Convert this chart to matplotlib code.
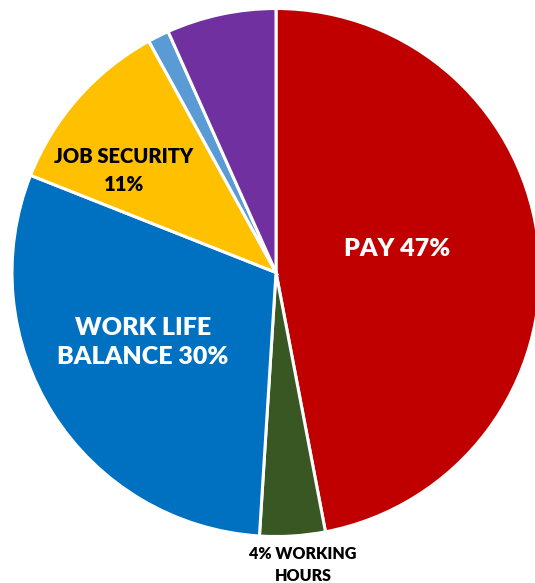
import matplotlib
matplotlib.use("Agg")
import matplotlib.pyplot as plt

# Survey: what matters most to employees
categories = ["PAY", "WORKING HOURS", "WORK LIFE BALANCE", "JOB SECURITY", "OTHER", "CAREER GROWTH"]
shares = [47, 4, 30, 11, 1.3, 6.7]
colors = ["#C00000", "#385723", "#0070C0", "#FFC000", "#5B9BD5", "#7030A0"]

W, H = 535, 583
fig = plt.figure(figsize=(W / 100, H / 100), dpi=100)
ax = fig.add_axes([0, 0, 1, 1])

cx, cy, r = 276, H - 272.5, 264
wedges, _ = ax.pie(
    shares,
    colors=colors,
    startangle=90,
    counterclock=False,
    center=(cx, cy),
    radius=r,
    wedgeprops=dict(edgecolor="white", linewidth=2.2),
)
ax.set_xlim(0, W)
ax.set_ylim(0, H)
ax.set_aspect("equal")
ax.axis("off")

font = dict(family=["Lato", "DejaVu Sans"], fontweight="heavy", ha="center", va="center",
            multialignment="center")

ax.text(397.5, H - 249, "PAY 47%", color="white", fontsize=18, **font)
ax.text(143, H - 342.5, "WORK LIFE\nBALANCE 30%", color="white", fontsize=18,
        linespacing=1.42, **font)
ax.text(124, H - 170.5, "JOB SECURITY\n11%", color="black", fontsize=14.5,
        linespacing=1.6, **font)
ax.text(303, H - 565, "4% WORKING\nHOURS", color="black", fontsize=11.5,
        linespacing=1.5, **font)

fig.savefig("out.png", dpi=100)
